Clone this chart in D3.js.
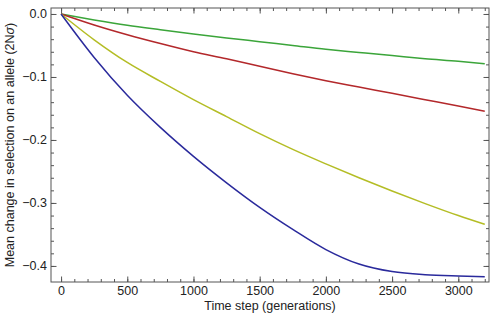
<!DOCTYPE html>
<html lang="en">
<head>
    <meta charset="UTF-8">
    <title>Selection change</title>
    <script src="https://d3js.org/d3.v7.min.js"></script>
    <style>
        body { margin: 0; background: white; }
        svg text { font-family: "Liberation Sans", Arial, sans-serif; fill: #222; }
        .frame { fill: none; stroke: #555; stroke-width: 1px; }
        .tick line { stroke: #555; }
    </style>
</head>
<body>
<svg id="canvas" width="494" height="316"></svg>
<script>
    // values
    let steps = [0, 250, 500, 750, 1000, 1250, 1500, 1750, 2000, 2250, 2500, 2750, 3000, 3200]
    let blueVals   = [0, -0.069, -0.129, -0.180, -0.226, -0.268, -0.307, -0.342, -0.374, -0.397, -0.409, -0.414, -0.416, -0.417]
    let yellowVals = [0, -0.041, -0.077, -0.107, -0.136, -0.163, -0.190, -0.215, -0.238, -0.260, -0.281, -0.301, -0.320, -0.334]
    let redVals    = [0, -0.0175, -0.033, -0.047, -0.060, -0.071, -0.083, -0.095, -0.106, -0.116, -0.126, -0.136, -0.146, -0.1545]
    let greenVals  = [0, -0.0095, -0.018, -0.025, -0.0316, -0.038, -0.044, -0.050, -0.056, -0.061, -0.066, -0.071, -0.075, -0.079]
    let xTicks = [0, 500, 1000, 1500, 2000, 2500, 3000]
    let yTicks = [0, -0.1, -0.2, -0.3, -0.4]

    let series = [
        {vals: greenVals, color: "#3ba53a"},
        {vals: redVals, color: "#b3282b"},
        {vals: yellowVals, color: "#b4bd25"},
        {vals: blueVals, color: "#2a2a9c"}
    ]

    let svg = d3.select('svg')
    let pL = 51, pR = 489, pT = 8, pB = 282

    let x = d3.scaleLinear().domain([-76, 3232]).range([pL, pR])
    let y = d3.scaleLinear().domain([-0.4255, 0.0095]).range([pB, pT])

    let xMinor = d3.range(-0, 3201, 100)
    let yMinor = d3.range(0, -0.42, -0.02)

    function tickSet(axisFn, scale, major, minor, fmt, showLabels) {
        let g = svg.append('g')
        g.call(axisFn(scale).tickValues(minor).tickSize(-3).tickFormat(''))
        g.selectAll('.domain').remove()
        let g2 = svg.append('g')
        g2.call(axisFn(scale).tickValues(major).tickSize(-5.5).tickPadding(4)
            .tickFormat(showLabels ? fmt : ''))
        g2.selectAll('.domain').remove()
        g2.selectAll('text').style('font-size', '12.5px')
        return [g, g2]
    }

    // bottom / left with labels, top / right without
    tickSet(d3.axisBottom, x, xTicks, xMinor, d3.format('d'), true).forEach(g => g.attr('transform', `translate(0,${pB})`))
    tickSet(d3.axisTop, x, xTicks, xMinor, d3.format('d'), false).forEach(g => g.attr('transform', `translate(0,${pT})`))
    tickSet(d3.axisLeft, y, yTicks, yMinor, d3.format('.1f'), true).forEach(g => g.attr('transform', `translate(${pL},0)`))
    tickSet(d3.axisRight, y, yTicks, yMinor, d3.format('.1f'), false).forEach(g => g.attr('transform', `translate(${pR},0)`))

    svg.selectAll('.tick line').attr('stroke', '#555')

    let line = d3.line()
        .x((d, i) => x(steps[i]))
        .y(d => y(d))
        .curve(d3.curveMonotoneX)

    svg.append('g').selectAll('path')
        .data(series)
        .enter()
        .append('path')
        .attr('d', d => line(d.vals))
        .attr('fill', 'none')
        .attr('stroke', d => d.color)
        .attr('stroke-width', 1.5)

    svg.append('rect').attr('class', 'frame')
        .attr('x', pL).attr('y', pT)
        .attr('width', pR - pL).attr('height', pB - pT)

    svg.append('text')
        .attr('x', (pL + pR) / 2).attr('y', 310)
        .attr('text-anchor', 'middle')
        .style('font-size', '12.5px')
        .text('Time step (generations)')

    let yl = svg.append('text')
        .attr('transform', `translate(14,${(pT + pB) / 2}) rotate(-90)`)
        .attr('text-anchor', 'middle')
        .style('font-size', '12.5px')
    yl.append('tspan').text('Mean change in selection on an allele (2N')
    yl.append('tspan').style('font-style', 'italic').text('σ')
    yl.append('tspan').text(')')
</script>
</body>
</html>
